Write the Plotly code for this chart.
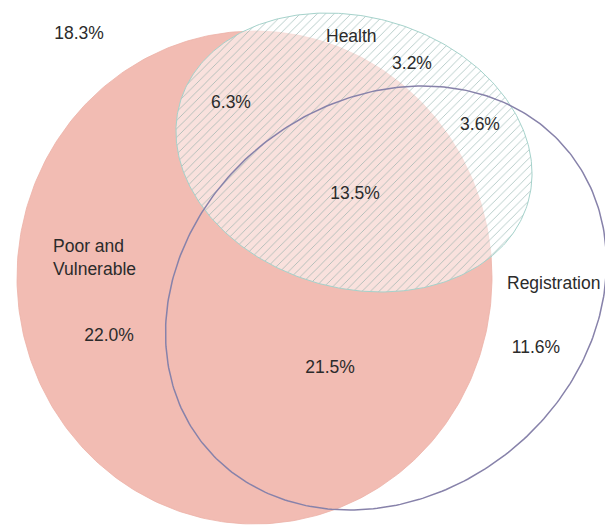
import numpy as np
import plotly.graph_objects as go

# --- data ---
set_names = ["Poor and<br>Vulnerable", "Health", "Registration"]
region_labels = ["18.3%", "3.2%", "6.3%", "3.6%", "13.5%", "22.0%", "21.5%", "11.6%"]
region_x = [79, 412, 231, 480, 355, 109, 330, 536]
region_y = [35, 65, 104, 126, 195, 337, 369, 349]
name_x = [51, 351, 553]
name_y = [257, 36, 283]

# ellipse geometry (cx, cy, semi-axis a, semi-axis b, rotation deg, counter-clockwise on screen)
ell_cx = [254.5, 354, 386]
ell_cy = [277.5, 152.5, 298]
ell_a = [237.5, 181, 234]
ell_b = [246.5, 135.6, 197]
ell_rot = [0, -15.8, 38.4]


def ellipse(cx, cy, a, b, rot):
    t = np.linspace(0, 2 * np.pi, 361)
    p = np.deg2rad(rot)
    x = cx + a * np.cos(t) * np.cos(p) - b * np.sin(t) * np.sin(p)
    y = cy - (a * np.cos(t) * np.sin(p) + b * np.sin(t) * np.cos(p))
    return x, y


fig = go.Figure()

# Poor and Vulnerable
x, y = ellipse(ell_cx[0], ell_cy[0], ell_a[0], ell_b[0], ell_rot[0])
fig.add_trace(go.Scatter(x=x, y=y, mode="lines", fill="toself",
                         fillcolor="rgb(242,188,179)",
                         line=dict(color="rgba(236,178,168,0.8)", width=1),
                         hoverinfo="skip", showlegend=False))

# Health (hatched)
x, y = ellipse(ell_cx[1], ell_cy[1], ell_a[1], ell_b[1], ell_rot[1])
fig.add_trace(go.Scatter(x=x, y=y, mode="lines", fill="toself",
                         fillcolor="rgba(255,255,255,0.55)",
                         fillpattern=dict(shape="/", fgcolor="rgb(125,165,160)",
                                          fgopacity=0.6,
                                          bgcolor="rgba(255,255,255,0.55)",
                                          size=6, solidity=0.15),
                         line=dict(color="rgb(165,210,203)", width=1),
                         hoverinfo="skip", showlegend=False))

# Registration (outline)
x, y = ellipse(ell_cx[2], ell_cy[2], ell_a[2], ell_b[2], ell_rot[2])
fig.add_trace(go.Scatter(x=x, y=y, mode="lines",
                         line=dict(color="rgb(135,130,170)", width=1.5),
                         hoverinfo="skip", showlegend=False))

font = dict(family="Liberation Sans, Arial, sans-serif", size=17.5, color="#2b2b2b")

fig.add_trace(go.Scatter(x=region_x, y=region_y, mode="text", text=region_labels,
                         textfont=font, textposition="middle center",
                         hoverinfo="skip", showlegend=False))

fig.add_annotation(x=name_x[0], y=name_y[0], text=set_names[0], showarrow=False,
                   xanchor="left", yanchor="middle", align="left", font=font)
fig.add_annotation(x=name_x[1], y=name_y[1], text=set_names[1], showarrow=False,
                   xanchor="center", yanchor="middle", font=font)
fig.add_annotation(x=name_x[2], y=name_y[2], text=set_names[2], showarrow=False,
                   xanchor="center", yanchor="middle", font=font)

fig.update_layout(
    width=605, height=527,
    margin=dict(l=0, r=0, t=0, b=0),
    paper_bgcolor="white", plot_bgcolor="white",
    xaxis=dict(range=[0, 605], visible=False, fixedrange=True),
    yaxis=dict(range=[527, 0], visible=False, fixedrange=True),
)

fig.write_html("out.html", config={"displayModeBar": False},
               post_script="document.body.style.margin='0';document.body.style.overflow='hidden';")
